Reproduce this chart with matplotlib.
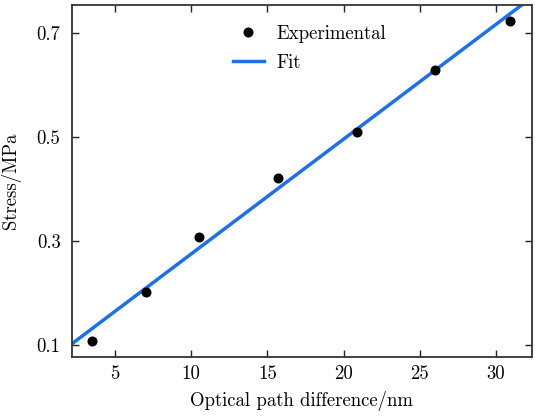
import numpy as np
import matplotlib
matplotlib.use("Agg")
import matplotlib.pyplot as plt

plt.rcParams['font.family'] = ['cmr10', 'DejaVu Serif']
plt.rcParams['mathtext.fontset'] = 'cm'
plt.rcParams['axes.formatter.use_mathtext'] = True

# Data
opd = [3.47, 7.03, 10.49, 15.72, 20.89, 25.97, 30.92]
stress = [0.108, 0.2015, 0.307, 0.4215, 0.510, 0.630, 0.724]
fit_slope = 0.0221
fit_intercept = 0.0543
fit_x = [2.0, 33.0]
xticks = [5, 10, 15, 20, 25, 30]
yticks = [0.1, 0.3, 0.5, 0.7]

fig = plt.figure(figsize=(5.35, 4.19), dpi=100)
ax = fig.add_axes([71.7/535, 1 - 356.7/419, (531.7-71.7)/535, (356.7-5)/419])

fx = np.array(fit_x)
ax.plot(opd, stress, 'o', color='black', markersize=6.2, label='Experimental', zorder=3)
ax.plot(fx, fit_slope*fx + fit_intercept, '-', color='#1f6fe6', lw=2.5, label='Fit', zorder=2)

ax.set_xlim(2.16, 32.34)
ax.set_ylim(0.0775, 0.7545)
ax.set_xticks(xticks)
ax.set_yticks(yticks)
ax.set_xticklabels([str(t) for t in xticks])
ax.set_yticklabels([f"{t:.1f}" for t in yticks])
ax.tick_params(direction='in', length=5, width=1, top=True, right=True,
               labelsize=13.5, colors='#222222', labelcolor='black')
ax.tick_params(axis='x', pad=6)
ax.tick_params(axis='y', pad=8)
for s in ax.spines.values():
    s.set_linewidth(1.3)
    s.set_color('#333333')

ax.set_xlabel('Optical path difference/nm', fontsize=13.5, labelpad=6)
ax.set_ylabel('Stress/MPa', fontsize=13.5, labelpad=11)

ax.legend(loc='upper left', bbox_to_anchor=(0.313, 0.992), frameon=False,
          fontsize=13.5, handlelength=1.7, handletextpad=0.65, labelspacing=0.6)

fig.savefig('out.png', dpi=100)
